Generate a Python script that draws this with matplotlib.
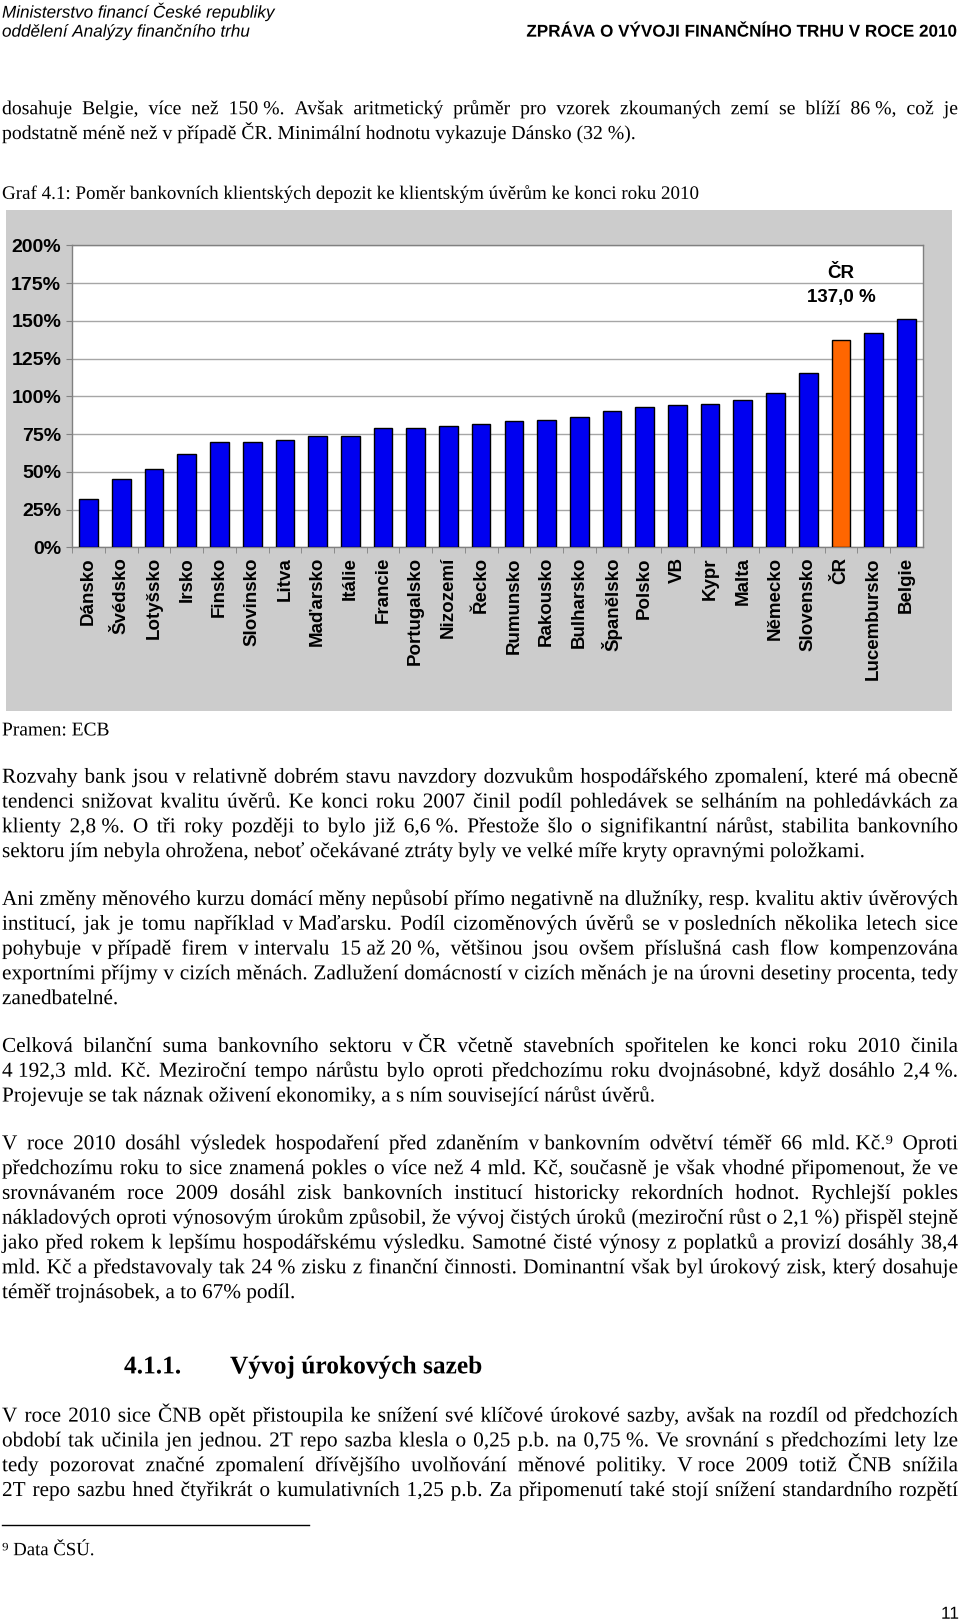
import matplotlib
matplotlib.use("Agg")
import matplotlib.pyplot as plt
from matplotlib.patches import Rectangle, PathPatch
from matplotlib.ticker import FixedLocator
from matplotlib.textpath import TextPath, text_to_path
from matplotlib.font_manager import FontProperties
from matplotlib.transforms import Affine2D

W, H = 960, 1623
SERIF = ["Liberation Serif", "DejaVu Serif"]
SANS = ["Liberation Sans", "DejaVu Sans"]
NARROW = ["Liberation Sans Narrow", "Liberation Sans", "DejaVu Sans"]

# data
countries = ["Dánsko", "Švédsko", "Lotyšsko", "Irsko", "Finsko", "Slovinsko", "Litva",
             "Maďarsko", "Itálie", "Francie", "Portugalsko", "Nizozemí", "Řecko",
             "Rumunsko", "Rakousko", "Bulharsko", "Španělsko", "Polsko", "VB", "Kypr",
             "Malta", "Německo", "Slovensko", "ČR", "Lucembursko", "Belgie"]
ratio = [32.0, 45.0, 52.0, 62.0, 70.0, 70.0, 71.0, 73.7, 73.7, 79.0, 79.0, 80.0, 81.7,
         83.4, 84.3, 86.1, 90.5, 93.1, 94.0, 94.9, 97.5, 102.0, 115.4, 137.0, 142.1, 151.2]
highlight = "ČR"
yticks = [0, 25, 50, 75, 100, 125, 150, 175, 200]

para_top = ["dosahuje Belgie, více než 150\u00a0%. Avšak aritmetický průměr pro vzorek zkoumaných zemí se blíží 86\u00a0%, což je",
            "podstatně méně než v případě ČR. Minimální hodnotu vykazuje Dánsko (32\u00a0%)."]
caption = "Graf 4.1: Poměr bankovních klientských depozit ke klientským úvěrům ke konci roku 2010"
source = "Pramen: ECB"
para_a = ["Rozvahy bank jsou v relativně dobrém stavu navzdory dozvukům hospodářského zpomalení, které má obecně",
          "tendenci snižovat kvalitu úvěrů. Ke konci roku 2007 činil podíl pohledávek se selháním na pohledávkách za",
          "klienty 2,8\u00a0%. O tři roky později to bylo již 6,6\u00a0%. Přestože šlo o signifikantní nárůst, stabilita bankovního",
          "sektoru jím nebyla ohrožena, neboť očekávané ztráty byly ve velké míře kryty opravnými položkami."]
para_b = ["Ani změny měnového kurzu domácí měny nepůsobí přímo negativně na dlužníky, resp. kvalitu aktiv úvěrových",
          "institucí, jak je tomu například v\u00a0Maďarsku. Podíl cizoměnových úvěrů se v\u00a0posledních několika letech sice",
          "pohybuje v\u00a0případě firem v\u00a0intervalu 15\u00a0až\u00a020\u00a0%, většinou jsou ovšem příslušná cash flow kompenzována",
          "exportními příjmy v cizích měnách. Zadlužení domácností v cizích měnách je na úrovni desetiny procenta, tedy",
          "zanedbatelné."]
para_c = ["Celková bilanční suma bankovního sektoru v\u00a0ČR včetně stavebních spořitelen ke konci roku 2010 činila",
          "4\u00a0192,3 mld. Kč. Meziroční tempo nárůstu bylo oproti předchozímu roku dvojnásobné, když dosáhlo 2,4\u00a0%.",
          "Projevuje se tak náznak oživení ekonomiky, a s ním související nárůst úvěrů."]
para_d = ["V roce 2010 dosáhl výsledek hospodaření před zdaněním v\u00a0bankovním odvětví téměř 66 mld.\u00a0Kč.\u2079 Oproti",
          "předchozímu roku to sice znamená pokles o více než 4 mld. Kč, současně je však vhodné připomenout, že ve",
          "srovnávaném roce 2009 dosáhl zisk bankovních institucí historicky rekordních hodnot. Rychlejší pokles",
          "nákladových oproti výnosovým úrokům způsobil, že vývoj čistých úroků (meziroční růst o 2,1\u00a0%) přispěl stejně",
          "jako před rokem k lepšímu hospodářskému výsledku. Samotné čisté výnosy z poplatků a provizí dosáhly 38,4",
          "mld. Kč a představovaly tak 24\u00a0% zisku z finanční činnosti. Dominantní však byl úrokový zisk, který dosahuje",
          "téměř trojnásobek, a to 67% podíl."]
para_e = ["V roce 2010 sice ČNB opět přistoupila ke snížení své klíčové úrokové sazby, avšak na rozdíl od předchozích",
          "období tak učinila jen jednou. 2T repo sazba klesla o 0,25 p.b. na 0,75\u00a0%. Ve srovnání s předchozími lety lze",
          "tedy pozorovat značné zpomalení dřívějšího uvolňování měnové politiky. V\u00a0roce 2009 totiž ČNB snížila",
          "2T repo sazbu hned čtyřikrát o kumulativních 1,25 p.b. Za připomenutí také stojí snížení standardního rozpětí"]

fig = plt.figure(figsize=(W / 100, H / 100), dpi=100)
pa = fig.add_axes([0, 0, 1, 1], zorder=0)
pa.set_xlim(0, W)
pa.set_ylim(H, 0)
pa.axis("off")

BODY = 15.3


def put_line(y, text, justify, x0=2, x1=958, size=BODY, family=SERIF, weight="normal",
             style="normal", align="left"):
    # words drawn as outlines on one common baseline (y = visual middle of the line)
    px = size * 100 / 72
    fp = FontProperties(family=family, size=px, weight=weight, style=style)
    base = y + 0.33 * px
    words = text.split(" ")
    ws = [text_to_path.get_text_width_height_descent(w, fp, ismath=False)[0] for w in words]
    if justify and len(words) > 1:
        gap = (x1 - x0 - sum(ws)) / (len(words) - 1)
    else:
        gap = text_to_path.get_text_width_height_descent("a a", fp, ismath=False)[0] - \
            text_to_path.get_text_width_height_descent("aa", fp, ismath=False)[0]
    x = x0
    if align == "right":
        x = x1 - sum(ws) - gap * (len(words) - 1)
    for w, wd in zip(words, ws):
        tp = TextPath((0, 0), w, prop=fp)
        path = Affine2D().scale(1, -1).translate(x, base).transform_path(tp)
        pa.add_patch(PathPatch(path, facecolor="black", edgecolor="none", lw=0))
        x += wd + gap


def put_para(lines, y0, dy=24.8, size=BODY, last_justified=False):
    for i, ln in enumerate(lines):
        put_line(y0 + i * dy, ln, justify=(i < len(lines) - 1) or last_justified, size=size)


# page header
put_line(12, "Ministerstvo financí České republiky", False, family=NARROW, style="italic", size=12.3)
put_line(31, "oddělení Analýzy finančního trhu", False, family=NARROW, style="italic", size=12.3)
put_line(31, "ZPRÁVA O VÝVOJI FINANČNÍHO TRHU V ROCE 2010", False, x1=957, family=NARROW,
         weight="bold", size=12.3, align="right")

put_para(para_top, 107.7, size=14.2)
put_line(192.6, caption, justify=False, size=13.7)
put_line(729, source, justify=False, size=14)
put_para(para_a, 775.7)
put_para(para_b, 897.9)
put_para(para_c, 1044.9)
put_para(para_d, 1142.3)
put_line(1365, "4.1.1.", False, x0=124, size=18.3, weight="bold")
put_line(1365, "Vývoj úrokových sazeb", False, x0=230, size=18.3, weight="bold")
put_para(para_e, 1414.6, last_justified=True)
pa.plot([2, 309], [1525, 1525], color="black", lw=1)
put_line(1549, "\u2079 Data ČSÚ.", False, size=13.5)
put_line(1613, "11", False, x1=959, family=SANS, size=12.5, align="right")

# gray chart frame
pa.add_patch(Rectangle((6, 210), 946, 501, facecolor="#cccccc", edgecolor="none"))

# chart
ax = fig.add_axes([72.3 / W, 1 - 547.3 / H, 850.4 / W, 302 / H], zorder=1)
ax.set_facecolor("white")
xs = list(range(len(countries)))
colors = ["#ff6600" if c == highlight else "#0000f0" for c in countries]
ax.bar(xs, ratio, width=0.57, color=colors, edgecolor="black", linewidth=1, zorder=3)
ax.set_xlim(-0.5, len(countries) - 0.5)
ax.set_ylim(0, 200)
ax.set_yticks(yticks)
ax.set_yticklabels([f"{v}%" for v in yticks], family=SANS, weight="bold", fontsize=14)
ax.set_xticks(xs)
ax.set_xticklabels(countries, rotation=90, family=SANS, weight="bold", fontsize=13.5)
ax.xaxis.set_minor_locator(FixedLocator([x + 0.5 for x in xs[:-1]] + [-0.5]))
ax.tick_params(axis="x", which="major", length=0, pad=7)
ax.tick_params(axis="x", which="minor", length=4, color="#808080")
ax.tick_params(axis="y", length=4, color="#808080", pad=4)
ax.grid(axis="y", color="#a6a6a6", lw=1, zorder=1)
for s in ax.spines.values():
    s.set_color("#808080")
    s.set_linewidth(1)

i_cr = countries.index(highlight)
ax.text(i_cr, 181.6, "ČR", family=SANS, weight="bold", fontsize=13.5, ha="center", va="center")
ax.text(i_cr, 165.3, f"{ratio[i_cr]:.1f} %".replace(".", ","), family=SANS, weight="bold",
        fontsize=13.5, ha="center", va="center")

fig.savefig("out.png", dpi=100)
